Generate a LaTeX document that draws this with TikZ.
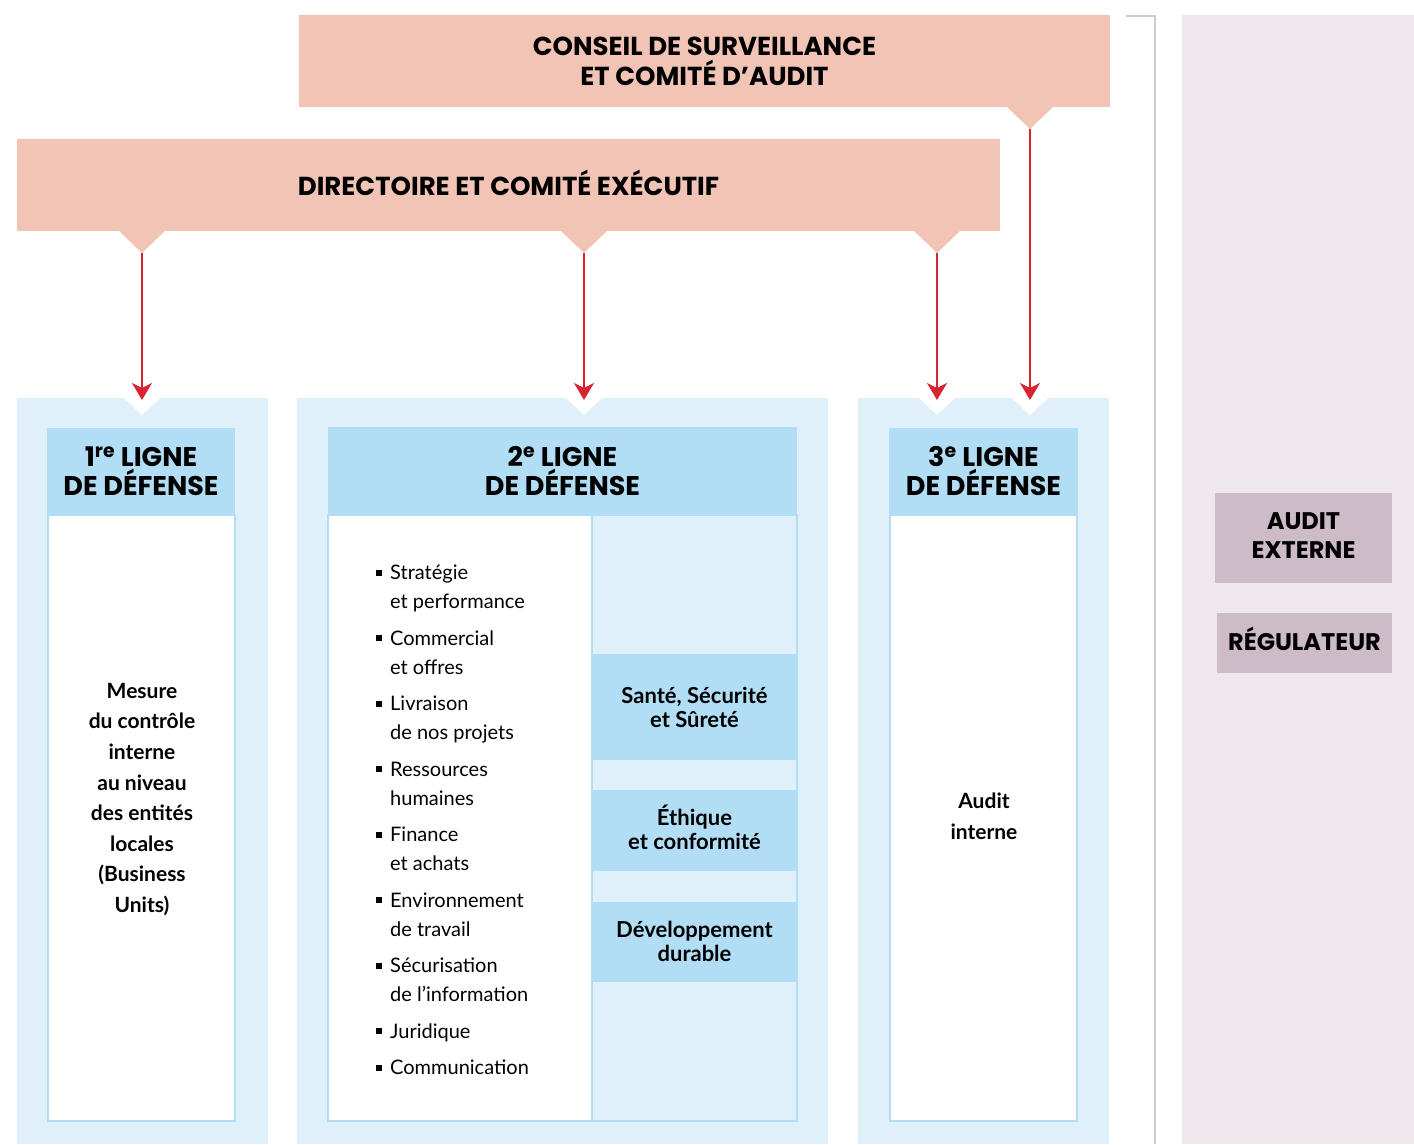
\documentclass[tikz,border=0pt]{standalone}
\usepackage{fontspec}
\setmainfont{Lato}
\newfontfamily\titrefont{Poppins}
\usetikzlibrary{arrows.meta}

\definecolor{saumon}{HTML}{F2C4B5}
\definecolor{bleuclair}{HTML}{E0F0FB}
\definecolor{bleu}{HTML}{B1DDF5}
\definecolor{rouge}{HTML}{D62530}
\definecolor{mauveclair}{HTML}{EEE8EC}
\definecolor{mauve}{HTML}{CDBCC8}
\definecolor{trait}{HTML}{D4C7D2}

\newcommand{\puce}{\makebox[14pt][l]{\rule[4pt]{6pt}{6pt}}}
\newcommand{\retrait}{\hspace*{14pt}}

\tikzset{
  boite/.style={inner sep=0, outer sep=0, align=center},
  bandeau/.style={boite, fill=saumon, font=\titrefont\bfseries\fontsize{26}{30}\selectfont},
  entete/.style={boite, fill=bleu, font=\titrefont\bfseries\fontsize{27}{29}\selectfont},
  corps/.style={boite, fill=white, draw=bleu, line width=2},
  fonction/.style={boite, fill=bleu, font=\bfseries\fontsize{22}{24}\selectfont},
  externe/.style={boite, fill=mauve, font=\titrefont\bfseries\fontsize{24}{29}\selectfont},
  fleche/.style={rouge, line width=1.5, -{Stealth[length=17pt, width=20pt, inset=5pt]}}
}

\begin{document}
\begin{tikzpicture}[x=1pt,y=-1pt]
  \useasboundingbox (0,0) rectangle (1414,1144);

  % organes de gouvernance
  \node at (704.5,61) [bandeau, minimum width=811, minimum height=92] (conseil) {CONSEIL DE SURVEILLANCE\\ET COMITÉ D’AUDIT};
  \node at (508.5,185) [bandeau, minimum width=983, minimum height=92] (directoire) {};
  \node at (508.5,183) [boite, font=\titrefont\bfseries\fontsize{26}{30}\selectfont] (directoiretxt) {DIRECTOIRE ET COMITÉ EXÉCUTIF};
  \fill[saumon] (1007,107) -- (1030,129) -- (1053,107) -- cycle;
  \foreach \x in {142,584,937}
    \fill[saumon] (\x-23,231) -- (\x,253) -- (\x+23,231) -- cycle;
  \coordinate (c0) at (1030,129);
  \coordinate (d1) at (142,253);
  \coordinate (d2) at (584,253);
  \coordinate (d3) at (937,253);

  % les trois lignes
  \node at (142.5,771) [boite, fill=bleuclair, minimum width=251, minimum height=746] (ligne1) {};
  \node at (562.5,771) [boite, fill=bleuclair, minimum width=531, minimum height=746] (ligne2) {};
  \node at (983.5,771) [boite, fill=bleuclair, minimum width=251, minimum height=746] (ligne3) {};
  \foreach \x in {142,584,937,1030}
    \fill[white] (\x-19,397) -- (\x,415) -- (\x+19,397) -- cycle;
  \coordinate (a1) at (142,400);
  \coordinate (a2) at (584,400);
  \coordinate (a3) at (937,400);
  \coordinate (a4) at (1030,400);
  \draw[fleche] (d1) -- (a1);
  \draw[fleche] (d2) -- (a2);
  \draw[fleche] (d3) -- (a3);
  \draw[fleche] (c0) -- (a4);

  % 1re ligne
  \node at (141.5,818) [corps, minimum width=187, minimum height=606] (corps1) {};
  \node at (141,471.5) [entete, minimum width=188, minimum height=87] (entete1) {1\textsuperscript{re} LIGNE\\DE DÉFENSE};
  \node at (142,799.5) [boite, font=\bfseries\fontsize{21}{30.6}\selectfont] (mesure) {Mesure\\du contrôle\\interne\\au niveau\\des entités\\locales\\(Business\\Units)};

  % 2e ligne
  \node at (562.5,818) [corps, minimum width=469, minimum height=606] (corps2) {};
  \node at (694.5,818) [corps, fill=bleuclair, minimum width=205, minimum height=606] (support) {};
  \node at (562.5,471.5) [entete, minimum width=469, minimum height=89] (entete2) {2\textsuperscript{e} LIGNE\\DE DÉFENSE};
  \node at (694.5,707) [fonction, minimum width=205, minimum height=106] (sante) {Santé, Sécurité\\et Sûreté};
  \node at (694.5,830.5) [fonction, minimum width=205, minimum height=81] (ethique) {};
  \node at (694.5,827.5) [boite, font=\bfseries\fontsize{22}{24}\selectfont] (ethiquetxt) {Éthique\\et conformité};
  \node at (694.5,942) [fonction, minimum width=205, minimum height=80] (durable) {};
  \node at (694.5,941) [boite, font=\bfseries\fontsize{22}{24}\selectfont] (durabletxt) {Développement\\durable};
  \node at (376,565) [anchor=north west, inner sep=0, align=left, font=\fontsize{20}{29}\selectfont] (fonctions) {%
    \puce Stratégie\\\retrait et performance\\[7.5pt]
    \puce Commercial\\\retrait et offres\\[7.5pt]
    \puce Livraison\\\retrait de nos projets\\[7.5pt]
    \puce Ressources\\\retrait humaines\\[7.5pt]
    \puce Finance\\\retrait et achats\\[7.5pt]
    \puce Environnement\\\retrait de travail\\[7.5pt]
    \puce Sécurisation\\\retrait de l’information\\[7.5pt]
    \puce Juridique\\[7.5pt]
    \puce Communication};

  % 3e ligne
  \node at (983.5,818) [corps, minimum width=187, minimum height=606] (corps3) {};
  \node at (983.5,471.5) [entete, minimum width=189, minimum height=87] (entete3) {3\textsuperscript{e} LIGNE\\DE DÉFENSE};
  \node at (984,816) [boite, font=\bfseries\fontsize{21}{30.6}\selectfont] (audit) {Audit\\interne};

  % acteurs externes
  \draw[trait, line width=1.5] (1126,16) -- (1155,16) -- (1155,1144);
  \fill[mauveclair] (1182,15) rectangle (1414,1144);
  \node at (1303.5,538) [externe, minimum width=177, minimum height=90] (auditext) {};
  \node at (1303.5,536) [boite, font=\titrefont\bfseries\fontsize{24}{29}\selectfont] (auditexttxt) {AUDIT\\EXTERNE};
  \node at (1304.5,643) [externe, minimum width=175, minimum height=60] (regulateur) {};
  \node at (1304.5,639) [boite, font=\titrefont\bfseries\fontsize{24}{29}\selectfont] (regulateurtxt) {RÉGULATEUR};
\end{tikzpicture}
\end{document}
